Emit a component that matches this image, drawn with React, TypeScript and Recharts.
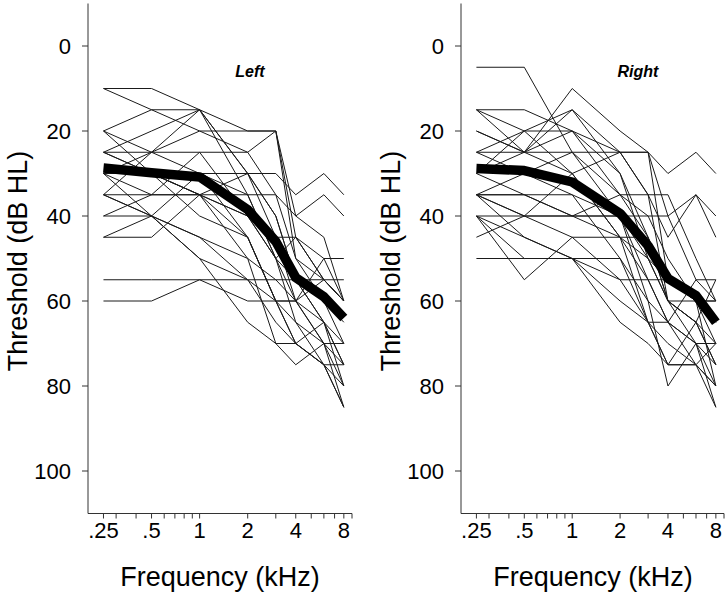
import React from 'react';
import { LineChart, Line, XAxis, YAxis } from 'recharts';

const FREQS = [0.25, 0.5, 1, 2, 3, 4, 6, 8];
const X_TICKS = [0.25, 0.3, 0.4, 0.5, 0.6, 0.7, 0.8, 0.9, 1, 2, 3, 4, 5, 6, 7, 8, 9];
const X_LABELS: Record<string, string> = { '0.25': '.25', '0.5': '.5', '1': '1', '2': '2', '4': '4', '8': '8' };
const Y_TICKS = [0, 20, 40, 60, 80, 100];

const LEFT_MEAN = [28.7, 29.8, 30.8, 38.5, 46, 54.5, 59, 64];
const RIGHT_MEAN = [28.8, 29.3, 32, 39.4, 47, 54.7, 58.7, 65];

const LEFT_SUBJECTS: number[][] = [
  [10, 10, 15, 30, 40, 55, 65, 75],
  [10, 15, 20, 25, 20, 45, 55, 60],
  [20, 15, 15, 20, 20, 40, 45, 60],
  [20, 25, 30, 35, 50, 55, 65, 80],
  [25, 25, 25, 25, 35, 50, 60, 70],
  [25, 20, 15, 30, 45, 60, 70, 85],
  [25, 30, 35, 45, 60, 70, 75, 80],
  [30, 25, 20, 20, 20, 50, 55, 60],
  [30, 30, 30, 30, 30, 35, 30, 35],
  [30, 35, 35, 40, 50, 60, 65, 75],
  [35, 25, 15, 35, 50, 65, 75, 85],
  [35, 35, 35, 35, 35, 40, 35, 40],
  [35, 40, 45, 50, 55, 60, 55, 60],
  [40, 35, 25, 40, 50, 45, 50, 60],
  [40, 40, 30, 45, 60, 70, 75, 75],
  [45, 45, 35, 30, 40, 55, 60, 65],
  [45, 40, 50, 55, 65, 70, 65, 70],
  [55, 55, 55, 55, 55, 55, 55, 55],
  [60, 60, 55, 60, 60, 60, 70, 75],
  [30, 40, 50, 65, 70, 75, 70, 80],
  [20, 30, 40, 45, 60, 60, 50, 50],
  [25, 30, 35, 40, 45, 45, 55, 60],
  [30, 30, 35, 50, 70, 70, 75, 85],
  [35, 40, 45, 55, 60, 65, 70, 70],
];

const RIGHT_SUBJECTS: number[][] = [
  [5, 5, 25, 40, 50, 60, 65, 75],
  [15, 15, 20, 25, 25, 30, 25, 30],
  [15, 25, 10, 20, 25, 40, 35, 40],
  [20, 25, 15, 25, 35, 45, 35, 45],
  [25, 20, 15, 30, 50, 60, 70, 80],
  [25, 25, 25, 25, 25, 55, 60, 70],
  [30, 25, 20, 30, 45, 60, 65, 70],
  [35, 35, 40, 45, 55, 65, 70, 85],
  [35, 30, 25, 35, 35, 35, 50, 60],
  [35, 40, 40, 40, 40, 40, 55, 55],
  [40, 40, 40, 40, 55, 65, 75, 80],
  [40, 45, 50, 65, 70, 75, 75, 85],
  [45, 40, 30, 25, 35, 60, 65, 75],
  [50, 50, 50, 50, 60, 80, 70, 75],
  [40, 55, 45, 55, 65, 70, 75, 80],
  [30, 20, 20, 35, 45, 60, 60, 60],
  [35, 40, 45, 45, 45, 55, 60, 65],
  [25, 30, 35, 40, 60, 65, 70, 70],
  [15, 20, 30, 45, 50, 55, 60, 60],
  [35, 35, 35, 50, 65, 75, 65, 55],
  [40, 50, 50, 55, 55, 55, 60, 80],
  [30, 35, 40, 35, 40, 50, 60, 65],
  [20, 25, 30, 45, 65, 75, 75, 70],
  [35, 45, 50, 60, 65, 65, 55, 60],
];

function buildRows(subjects: number[][], mean: number[]) {
  return FREQS.map((f, i) => {
    const row: Record<string, number> = { f, mean: mean[i] };
    subjects.forEach((s, j) => {
      row['s' + j] = s[i];
    });
    return row;
  });
}

const FONT = '"Liberation Sans", Arial, Helvetica, sans-serif';

function Panel({ subjects, mean, left, width, right }: { subjects: number[][]; mean: number[]; left: number; width: number; right: number }) {
  const rows = buildRows(subjects, mean);
  return (
    <div style={{ position: 'absolute', left, top: 0 }}>
      <LineChart width={width} height={593} data={rows} margin={{ top: 3.5, right, bottom: 49.5, left: 28 }}>
        <XAxis
          dataKey="f"
          type="number"
          scale="log"
          domain={[0.2, 9]}
          allowDataOverflow
          ticks={X_TICKS}
          interval={0}
          tickFormatter={(v: number) => X_LABELS[String(v)] ?? ''}
          height={30}
          tickSize={5}
          tickMargin={4}
          stroke="#333"
          tick={{ fill: '#000', fontSize: 22, fontFamily: FONT }}
        />
        <YAxis
          type="number"
          reversed
          domain={[-10, 110]}
          ticks={Y_TICKS}
          interval={0}
          width={60}
          tickSize={6}
          tickMargin={11}
          stroke="#333"
          tick={{ fill: '#000', fontSize: 22, fontFamily: FONT }}
        />
        {subjects.map((_, j) => (
          <Line
            key={j}
            dataKey={'s' + j}
            stroke="#1a1a1a"
            strokeWidth={1}
            dot={false}
            activeDot={false}
            isAnimationActive={false}
          />
        ))}
        <Line
          dataKey="mean"
          stroke="#000"
          strokeWidth={9.5}
          dot={false}
          activeDot={false}
          strokeLinejoin="round"
          isAnimationActive={false}
        />
      </LineChart>
    </div>
  );
}

export default function App() {
  return (
    <div style={{ position: 'absolute', left: 0, top: 0, width: 728, height: 593, background: '#fff', fontFamily: FONT }}>
      <Panel subjects={LEFT_SUBJECTS} mean={LEFT_MEAN} left={0} width={360} right={8} />
      <Panel subjects={RIGHT_SUBJECTS} mean={RIGHT_MEAN} left={373} width={355} right={4} />
      <svg width={728} height={593} style={{ position: 'absolute', left: 0, top: 0, pointerEvents: 'none' }}>
        <text x={250} y={71} textAnchor="middle" dominantBaseline="central" fontSize={16} fontWeight="bold" fontStyle="italic" fontFamily={FONT}>Left</text>
        <text x={638} y={71} textAnchor="middle" dominantBaseline="central" fontSize={16} fontWeight="bold" fontStyle="italic" fontFamily={FONT}>Right</text>
        <text transform="translate(18,261) rotate(-90)" textAnchor="middle" dominantBaseline="central" fontSize={27} fontFamily={FONT}>Threshold (dB HL)</text>
        <text transform="translate(391,261) rotate(-90)" textAnchor="middle" dominantBaseline="central" fontSize={27} fontFamily={FONT}>Threshold (dB HL)</text>
        <text x={220} y={577} textAnchor="middle" dominantBaseline="central" fontSize={27} fontFamily={FONT}>Frequency (kHz)</text>
        <text x={593} y={577} textAnchor="middle" dominantBaseline="central" fontSize={27} fontFamily={FONT}>Frequency (kHz)</text>
      </svg>
    </div>
  );
}
